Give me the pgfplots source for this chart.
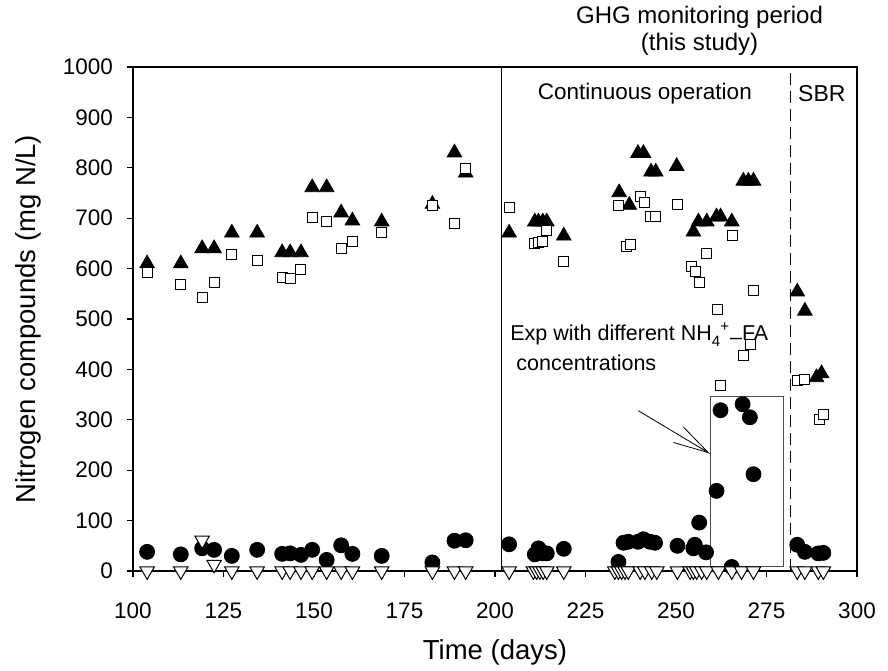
\documentclass[border=0pt]{standalone}
\usepackage{fontspec}
\setmainfont{Liberation Sans}
\usepackage{pgfplots}
\pgfplotsset{compat=1.18}
\begin{document}
\begin{tikzpicture}
\path[use as bounding box] (-66.5pt,-49.5pt) rectangle (377.5pt,285.5pt);
\begin{axis}[
  at={(0pt,0pt)}, anchor=south west,
  scale only axis, width=362pt, height=252pt,
  xmin=100, xmax=300, ymin=0, ymax=1000,
  xtick={100,125,...,300}, ytick={0,100,...,1000},
  tick align=outside, tick pos=left,
  major tick length=3pt,
  axis line style={line width=0.6pt},
  every tick/.style={black, line width=0.6pt},
  /pgf/number format/assume math mode=true,
  /pgf/number format/1000 sep={},
  tick label style={font=\fontsize{11.25}{13}\selectfont},
  xticklabel style={anchor=center, yshift=-17pt},
  yticklabel style={anchor=east, xshift=-3.5pt},
  label style={font=\fontsize{13.75}{16}\selectfont},
  xlabel={Time (days)}, ylabel={Nitrogen compounds (mg N/L)},
  xlabel style={at={(axis description cs:0.5,-0.161)}, anchor=center},
  ylabel style={at={(axis description cs:-0.145,0.5)}, anchor=center},
  clip=false,
]
\draw[line width=0.5pt] (axis cs:201.8,0) -- (axis cs:201.8,1000);
\draw[line width=0.5pt, dash pattern=on 6pt off 3pt] (axis cs:281.7,0) -- (axis cs:281.7,1000);
\draw[black!70, line width=0.5pt] (axis cs:259.6,8) rectangle (axis cs:279.6,347);
\draw[line width=0.4pt] (axis cs:239.6,318) -- (axis cs:258.9,235) -- (axis cs:252,286);
\draw[line width=0.4pt] (axis cs:249.3,255) -- (axis cs:258.9,235);

% NH4+ (filled up triangles)
\addplot[only marks, mark=triangle*, mark size=4.2pt, mark options={fill=black, draw=black}] coordinates {
(103.9,610) (113.2,610) (119.1,640) (122.4,640) (127.3,671) (134.3,671)
(141.2,632) (143.4,632) (146.4,632) (149.5,761) (153.5,761) (157.5,711)
(160.6,695) (168.7,693) (182.7,728) (188.8,830) (191.9,790) (203.9,671)
(211.0,693) (212.0,693) (213.2,693) (214.3,693) (219.0,665) (234.3,751)
(237.1,726) (239.5,829) (241.0,829) (243.1,792) (244.4,792) (250.2,803)
(254.8,673) (256.2,693) (258.5,693) (261.2,703) (262.3,703) (265.4,693)
(268.6,774) (270.0,774) (271.4,774) (283.5,554) (285.6,516) (288.8,384)
(290.2,392)
};
% open squares
\addplot[only marks, mark=square*, mark size=2.5pt, mark options={fill=white, draw=black, line width=0.5pt}] coordinates {
(103.9,592) (113.2,569) (119.1,543) (122.4,572) (127.3,628) (134.3,616)
(141.2,583) (143.4,580) (146.4,599) (149.5,702) (153.5,694) (157.5,640)
(160.6,653) (168.7,671) (182.7,725) (188.8,690) (191.9,799) (203.9,721)
(211.0,650) (212.0,652) (213.2,653) (214.3,675) (219.0,614) (234.1,725)
(236.2,643) (237.3,647) (240.1,743) (241.2,731) (243.0,703) (244.3,703)
(250.4,728) (254.3,604) (255.5,594) (256.4,573) (258.3,629) (261.4,519)
(262.4,369) (265.6,665) (268.6,428) (270.6,450) (271.4,556) (283.5,378)
(285.6,380) (289.6,301) (290.7,310)
};
% filled circles
\addplot[only marks, mark=*, mark size=3.75pt, mark options={fill=black, draw=black}] coordinates {
(103.9,38) (113.2,33) (119.1,45) (122.4,42) (127.3,30) (134.3,42)
(141.2,34) (143.4,35) (146.4,32) (149.5,42) (153.5,22) (157.5,51)
(160.6,34) (168.7,30) (182.7,17) (188.8,60) (191.9,61) (203.9,53)
(211.0,33) (212.0,45) (213.2,35) (214.3,35) (219.0,44) (234.1,18)
(235.5,56) (236.8,58) (239.5,58) (241.0,63) (242.8,58) (244.2,56)
(250.4,50) (254.8,45) (255.2,52) (256.4,96) (258.3,37) (261.2,159)
(262.3,319) (265.4,8) (268.4,331) (270.4,305) (271.4,192) (283.5,52)
(285.6,38) (289.3,35) (290.7,36)
};
% open down triangles
\addplot[only marks, mark=triangle*, mark size=4.2pt, mark options={rotate=180, fill=white, draw=black, line width=0.5pt}] coordinates {
(103.9,0) (113.2,0) (119.1,61) (122.4,13) (127.3,0) (134.3,0)
(141.2,0) (143.4,0) (146.4,0) (149.5,0) (153.5,0) (157.5,0) (160.6,0)
(168.7,0) (182.7,0) (188.8,0) (191.9,0) (203.9,0)
(210.6,0) (211.5,0) (212.4,0) (213.3,0) (214.3,0) (219.0,0)
(233.1,0) (234.1,0) (235.0,0) (235.9,0) (236.8,0) (240.1,0) (241.4,0)
(243.3,0) (244.7,0) (250.4,0) (253.9,0) (254.8,0) (255.7,0) (257.1,0)
(258.5,0) (261.7,0) (265.4,0) (268.1,0) (271.4,0) (283.5,0) (285.6,0)
(289.3,0) (290.7,0)
};

\node[font=\fontsize{12}{13.5}\selectfont, align=center] at (axis cs:256.5,1071) {GHG monitoring period\\(this study)};
\node[font=\fontsize{11.25}{13}\selectfont] at (axis cs:241.4,948) {Continuous operation};
\node[font=\fontsize{11.5}{13}\selectfont] at (axis cs:290.3,948) {SBR};
\node[font=\fontsize{10.75}{15}\selectfont, align=left, anchor=west] at (axis cs:202.3,445) {Exp with different NH\raisebox{-3pt}{\fontsize{7.5}{8}\selectfont 4}\raisebox{4.2pt}{\fontsize{7.5}{8}\selectfont +}\hspace{0.5pt}\raisebox{-0.35ex}{--}FA\\\hspace*{3pt}concentrations};
\end{axis}
\end{tikzpicture}
\end{document}
